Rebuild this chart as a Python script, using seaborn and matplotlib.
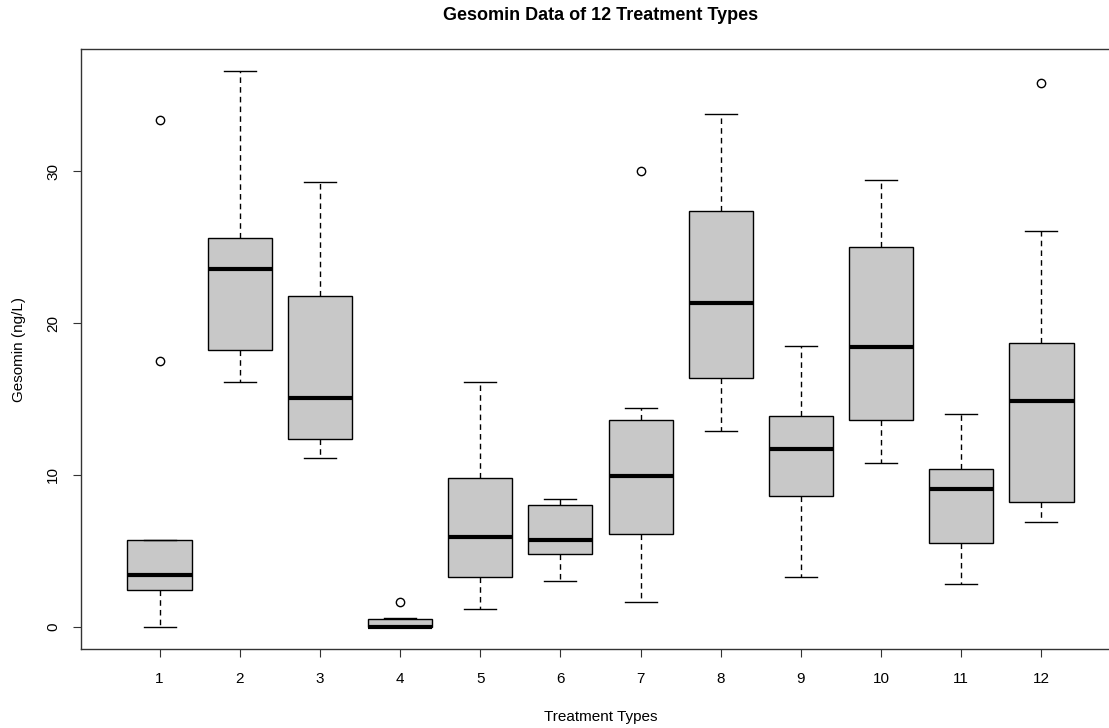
import seaborn as sns
import matplotlib.pyplot as plt
import pandas as pd

# gesomin readings (ng/L) for each treatment type
t1 = [0.0, 1.5, 2.4, 3.0, 3.4, 4.6, 5.7, 17.5, 33.4]
t2 = [16.1, 17.0, 18.2, 21.0, 23.6, 24.5, 25.6, 30.0, 36.6]
t3 = [11.1, 11.8, 12.4, 13.5, 15.1, 18.0, 21.8, 25.0, 29.3]
t4 = [0.0, 0.0, 0.0, 0.0, 0.0, 0.2, 0.5, 0.6, 1.6]
t5 = [1.2, 2.2, 3.3, 4.5, 5.9, 8.0, 9.8, 12.5, 16.1]
t6 = [3.0, 4.0, 4.8, 5.2, 5.7, 7.0, 8.0, 8.2, 8.4]
t7 = [1.6, 4.2, 6.1, 8.0, 9.9, 12.5, 13.6, 14.4, 30.0]
t8 = [12.9, 14.5, 16.4, 19.0, 21.3, 24.0, 27.4, 30.0, 33.8]
t9 = [3.3, 6.0, 8.6, 10.0, 11.7, 12.8, 13.9, 16.0, 18.5]
t10 = [10.8, 12.0, 13.6, 16.0, 18.4, 21.0, 25.0, 27.0, 29.4]
t11 = [2.8, 4.0, 5.5, 7.5, 9.1, 9.8, 10.4, 12.0, 14.0]
t12 = [6.9, 7.5, 8.2, 11.0, 14.9, 17.0, 18.7, 26.1, 35.8]

groups = [t1, t2, t3, t4, t5, t6, t7, t8, t9, t10, t11, t12]
labels = [str(i) for i in range(1, 13)]

rows = []
for lab, vals in zip(labels, groups):
    for v in vals:
        rows.append({'Treatment': lab, 'Gesomin': v})
df = pd.DataFrame(rows)

plt.rcParams['font.family'] = ['Liberation Sans', 'DejaVu Sans']

fig = plt.figure(figsize=(11.09, 7.28), dpi=100)
ax = fig.add_axes([81 / 1109, 1 - 649 / 728, (1120 - 81) / 1109, 600 / 728])

sns.boxplot(data=df, x='Treatment', y='Gesomin', order=labels, ax=ax,
            color='#c8c8c8', saturation=1, linecolor='black', linewidth=1,
            width=0.8, whis=1.5,
            whiskerprops=dict(linestyle=(0, (4, 3))),
            medianprops=dict(linewidth=3, color='black'),
            flierprops=dict(marker='o', markerfacecolor='none',
                            markeredgecolor='black', markersize=6,
                            markeredgewidth=1))

ax.set_xlim(-0.98, 11.98)
ax.set_ylim(-1.464, 38.06)
ax.set_yticks([0, 10, 20, 30])
for s in ax.spines.values():
    s.set_color('#333333')
    s.set_linewidth(1)
ax.spines['right'].set_visible(False)

ax.tick_params(axis='both', length=6, width=0.8, color='#333333',
               labelsize=11)
ax.tick_params(axis='x', pad=10.5)
ax.tick_params(axis='y', pad=9, labelrotation=90)
for t in ax.get_yticklabels():
    t.set_verticalalignment('center')

ax.set_xlabel('Treatment Types', fontsize=11)
ax.set_ylabel('Gesomin (ng/L)', fontsize=11)
ax.xaxis.set_label_coords(0.5, -0.102)
ax.yaxis.set_label_coords(-0.053, 0.5)

fig.text((81 + 1120) / 2 / 1109, 1 - 16 / 728, 'Gesomin Data of 12 Treatment Types',
         ha='center', va='center', fontsize=13, fontweight='bold')

fig.savefig('out.png', dpi=100)
